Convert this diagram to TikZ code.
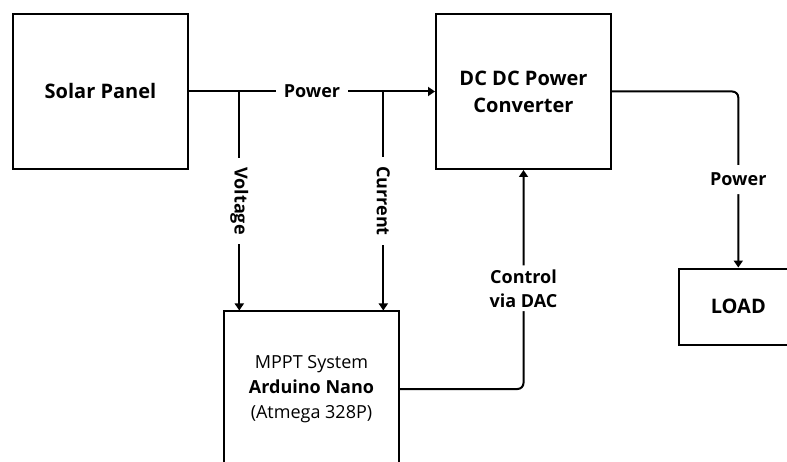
\documentclass[tikz,border=0pt]{standalone}
\usepackage{fontspec}
\setmainfont{Open Sans}
\usetikzlibrary{arrows.meta}
\tikzset{
  box/.style={draw, line width=2pt, minimum width=175pt, minimum height=155pt, align=center, inner sep=0pt},
  boxfont/.style={font=\fontsize{20}{27}\selectfont\bfseries},
  conn/.style={line width=2pt, -{Triangle[length=7pt,width=9pt]}},
  lbl/.style={fill=white, font=\fontsize{18}{24}\selectfont\bfseries, align=center, inner xsep=8pt, inner ysep=5pt}
}
\begin{document}
\begin{tikzpicture}[x=1pt,y=-1pt]
\useasboundingbox (0,0) rectangle (787,462);
\clip (0,0) rectangle (787,462);
\node[box, boxfont] (solar) at (100.5,91.5) {Solar Panel};
\node[box, boxfont] (dcdc) at (523.5,91.5) {DC DC Power\\Converter};
\node[box, boxfont, minimum width=118pt, minimum height=76.5pt] (load) at (738.3,306.8) {LOAD};
\node[box, font=\fontsize{18}{25}\selectfont] (mppt) at (311.5,389) {MPPT System\\\textbf{Arduino Nano}\\(Atmega 328P)};
\coordinate (vb) at (239.3,91.5);
\coordinate (cb) at (383.3,91.5);
\draw[conn] (solar.east) -- node[lbl] {Power} (dcdc.west);
\draw[conn] (vb) -- node[lbl, rotate=-90, inner xsep=9pt] {Voltage} (vb |- mppt.north);
\draw[conn] (cb) -- node[lbl, rotate=-90, inner xsep=9pt] {Current} (cb |- mppt.north);
\draw[conn, rounded corners=6pt] (mppt.east) -| node[lbl, pos=0.73, inner ysep=4pt] {Control\\via DAC} (dcdc.south);
\draw[conn, rounded corners=6pt] (dcdc.east) -| node[lbl, pos=0.75, inner ysep=8pt] {Power} (load.north);
\end{tikzpicture}
\end{document}
